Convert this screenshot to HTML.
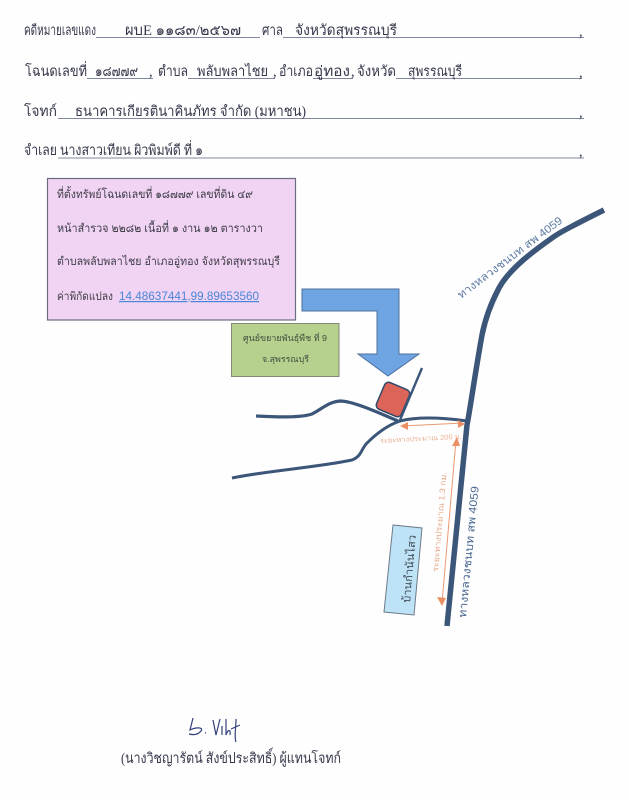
<!DOCTYPE html>
<html lang="th"><head><meta charset="utf-8"><style>
html,body{margin:0;padding:0;background:#fefefe;}
svg{display:block;}
text{font-family:"Liberation Serif","Noto Serif CJK SC","Noto Sans CJK SC",serif;}
.s,.s text{font-family:"Liberation Sans","Noto Sans CJK SC",sans-serif;}
.h{font-size:14.5px;fill:#34374a;}
.p{font-size:11.5px;fill:#3f3d48;}
.ln{stroke:#7f88a0;stroke-width:1;}
.road{fill:none;stroke:#3c5679;stroke-linecap:butt;stroke-linejoin:round;}
</style></head><body>
<svg width="629" height="800" viewBox="0 0 629 800" xmlns="http://www.w3.org/2000/svg">
<rect width="629" height="800" fill="#fefefe"/>
<g class="ln">
<line x1="96" y1="37.5" x2="260" y2="37.5"/><line x1="283" y1="37.5" x2="584" y2="37.5"/>
<line x1="87" y1="78.5" x2="153" y2="78.5"/><line x1="188" y1="78.5" x2="275" y2="78.5"/><line x1="313" y1="78.5" x2="353" y2="78.5"/><line x1="396" y1="78.5" x2="582" y2="78.5"/>
<line x1="58" y1="118.5" x2="584" y2="118.5"/>
<line x1="58" y1="158" x2="584" y2="158"/>
</g>
<g class="h">
<text x="24" y="35" textLength="72" lengthAdjust="spacingAndGlyphs">คดีหมายเลขแดง</text>
<text x="125" y="35" textLength="116" lengthAdjust="spacingAndGlyphs">ผบE ๑๑๘๓/๒๕๖๗</text>
<text x="262" y="35" textLength="21" lengthAdjust="spacingAndGlyphs">ศาล</text>
<text x="295" y="35" textLength="102" lengthAdjust="spacingAndGlyphs">จังหวัดสุพรรณบุรี</text>
<text x="579" y="36">,</text>
<text x="25" y="76" textLength="62" lengthAdjust="spacingAndGlyphs">โฉนดเลขที่</text>
<text x="95" y="76" textLength="43" lengthAdjust="spacingAndGlyphs">๑๘๗๗๙</text>
<text x="149" y="76">,</text>
<text x="158" y="76" textLength="30" lengthAdjust="spacingAndGlyphs">ตำบล</text>
<text x="197" y="76" textLength="71" lengthAdjust="spacingAndGlyphs">พลับพลาไชย</text>
<text x="273" y="76">,</text>
<text x="279" y="76" textLength="34" lengthAdjust="spacingAndGlyphs">อำเภอ</text>
<text x="314" y="76" textLength="36" lengthAdjust="spacingAndGlyphs">อู่ทอง</text>
<text x="351" y="76">,</text>
<text x="357" y="76" textLength="39" lengthAdjust="spacingAndGlyphs">จังหวัด</text>
<text x="408" y="76" textLength="54" lengthAdjust="spacingAndGlyphs">สุพรรณบุรี</text>
<text x="579" y="77">,</text>
<text x="24" y="116" textLength="33" lengthAdjust="spacingAndGlyphs">โจทก์</text>
<text x="75" y="116" textLength="231" lengthAdjust="spacingAndGlyphs">ธนาคารเกียรตินาคินภัทร จำกัด (มหาชน)</text>
<text x="579" y="117">,</text>
<text x="24" y="155" textLength="33" lengthAdjust="spacingAndGlyphs">จำเลย</text>
<text x="60" y="155" textLength="143" lengthAdjust="spacingAndGlyphs">นางสาวเทียน  ผิวพิมพ์ดี ที่ ๑</text>
<text x="579" y="156">,</text>
</g>
<rect x="47.5" y="178.5" width="248" height="141.5" fill="#f1d4f3" stroke="#6a6e7e" stroke-width="1.2"/>
<g class="s p">
<text x="57" y="198" textLength="196" lengthAdjust="spacingAndGlyphs">ที่ตั้งทรัพย์โฉนดเลขที่ ๑๘๗๗๙ เลขที่ดิน ๔๙</text>
<text x="57" y="232" textLength="206" lengthAdjust="spacingAndGlyphs">หน้าสำรวจ ๒๒๘๒  เนื้อที่ ๑ งาน ๑๒ ตารางวา</text>
<text x="57" y="265" textLength="223" lengthAdjust="spacingAndGlyphs">ตำบลพลับพลาไชย อำเภออู่ทอง จังหวัดสุพรรณบุรี</text>
<text x="57" y="300" textLength="56" lengthAdjust="spacingAndGlyphs">ค่าพิกัดแปลง</text>
<text x="119" y="300" textLength="140" lengthAdjust="spacingAndGlyphs" style="font-size:12px;fill:#4a86d8;text-decoration:underline">14.48637441,99.89653560</text>
</g>
<polygon points="302,289 399,289 399,354 419,354 388,376 358,354 377,354 377,311 302,311" fill="#6ea4e2" stroke="#4d6f9c" stroke-width="1"/>
<rect x="231.5" y="323.5" width="107.5" height="53" fill="#b5d18d" stroke="#7f8a78" stroke-width="1"/>
<g class="s" style="font-size:8.5px;fill:#444e40">
<text x="243" y="341" textLength="84" lengthAdjust="spacingAndGlyphs">ศูนย์ขยายพันธุ์พืช ที่ 9</text>
<text x="262" y="362" textLength="47" lengthAdjust="spacingAndGlyphs">จ.สุพรรณบุรี</text>
</g>
<rect x="379.5" y="385" width="27" height="29" rx="4.5" transform="rotate(23 393 399.5)" fill="#dc6458" stroke="#2f4868" stroke-width="1.5"/>
<path class="road" stroke-width="3.2" d="M256 416 C275 417 300 418 312 414 C322 409 328 402 340 401 C352 401 375 411 398 421"/>
<path class="road" stroke-width="3" d="M232 478 C265 471 320 467 352 460 C362 456 361 449 367 443 C377 433 388 425 400 421 C420 416 445 418 467 421"/>
<path class="road" stroke-width="2.4" d="M400 420 L422 368"/>
<path class="road" stroke-width="5.5" d="M604 210 C580 222 560 232 552 238 C535 250 510 268 499 288 C490 305 485 320 482 335 C474 380 470 410 467 425 L447 626"/>
<g fill="none" stroke="#ea9a72" stroke-width="1">
<line x1="402" y1="426" x2="463" y2="423"/>
<line x1="456" y1="440" x2="442" y2="603"/>
</g>
<g fill="#ea9064">
<polygon points="400,426 408,422 408,430"/>
<polygon points="465,424 458,420 458,428"/>
<polygon points="457,437 452,446 460,446"/>
<polygon points="442,606 437,597 446,598"/>
</g>
<text class="s" transform="translate(380,443) rotate(-3)" style="font-size:7px;fill:#ecae90" textLength="82" lengthAdjust="spacingAndGlyphs">ระยะทางประมาณ 200 ม.</text>
<text class="s" transform="translate(438,572) rotate(-85)" style="font-size:8px;fill:#e8a888" textLength="100" lengthAdjust="spacingAndGlyphs">ระยะทางประมาณ 1.3 กม.</text>
<polygon points="393,525 422,528 414,615 384,612" fill="#bfe3f6" stroke="#6b7a88" stroke-width="1"/>
<text class="s" transform="translate(410,603) rotate(-85)" style="font-size:11px;fill:#3f4a55" textLength="68" lengthAdjust="spacingAndGlyphs">บ้านกำนันไสว</text>
<text class="s" transform="translate(461,299) rotate(-37)" style="font-size:11px;fill:#5f7ba4" textLength="128" lengthAdjust="spacingAndGlyphs">ทางหลวงชนบท สพ 4059</text>
<text class="s" transform="translate(466,618) rotate(-84.5)" style="font-size:11px;fill:#4d6a94" textLength="132" lengthAdjust="spacingAndGlyphs">ทางหลวงชนบท สพ 4059</text>
<g fill="none" stroke="#33407c" stroke-width="1.2">
<path d="M193 718 L190 730 C196 727 204 727 201 731 C198 735 193 735 189 734"/>
<path d="M205 733 L206 733"/>
<path d="M213 720 L216 735 L220 719"/>
<path d="M222 726 L222 735 M226 719 L226 735 C228 729 231 729 230 735 M236 719 C236 728 234 737 236 742 M231 729 L240 725"/>
</g>
<text x="121" y="763" style="font-size:14.5px;fill:#34374a" textLength="220" lengthAdjust="spacingAndGlyphs">(นางวิชญารัตน์  สังข์ประสิทธิ์) ผู้แทนโจทก์</text>
</svg>
</body></html>
